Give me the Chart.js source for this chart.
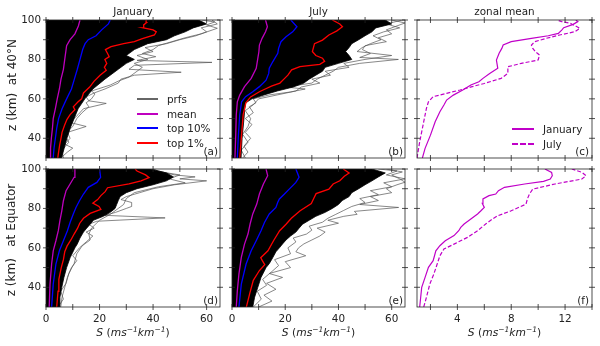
<!DOCTYPE html>
<html>
<head>
<meta charset="utf-8">
<script src="https://cdn.jsdelivr.net/npm/chart.js@4.4.1/dist/chart.umd.min.js"></script>
<style>
  html, body { margin: 0; padding: 0; background: #fff; }
  #fig { position: relative; width: 600px; height: 346px; overflow: hidden; background: #fff;
         font-family: "DejaVu Sans", sans-serif; font-size: 10.4px; color: #222; }
  #fig canvas { position: absolute; left: 0; top: 0; }
  .txt { position: absolute; white-space: pre; line-height: 1; }
  .ctr { transform: translate(-50%, -50%); }
  .rot { transform: translate(-50%, -50%) rotate(-90deg); font-size: 12px; }
  .xl { font-size: 10.7px; }
  .plab { transform: translate(-100%, -50%); }
  sup { font-size: 7.5px; line-height: 0; vertical-align: 4px; font-style: italic; }
  .legend { position: absolute; }
  .legend div { height: 14.6px; display: flex; align-items: center; white-space: pre; }
  .legend .sw { display: inline-block; width: 21px; height: 2px; margin-right: 9px; }
  .legend .dash { height: 0; background: none !important; border-top: 2px dashed #c000c8; }
</style>
</head>
<body>
<div id="fig">
  <canvas id="pa" width="600" height="346"></canvas>
  <canvas id="pb" width="600" height="346"></canvas>
  <canvas id="pc" width="600" height="346"></canvas>
  <canvas id="pd" width="600" height="346"></canvas>
  <canvas id="pe" width="600" height="346"></canvas>
  <canvas id="pf" width="600" height="346"></canvas>

  <div class="txt ctr" style="left:133px;top:11px">January</div>
  <div class="txt ctr" style="left:318.5px;top:11px">July</div>
  <div class="txt ctr" style="left:504.5px;top:11px">zonal mean</div>

  <div class="txt rot" style="left:12px;top:85px">z (km)  at 40°N</div>
  <div class="txt rot" style="left:11px;top:240px">z (km)   at Equator</div>

  <div class="txt ctr xl" style="left:133px;top:333px"><i>S</i> (<i>ms</i><sup>−1</sup><i>km</i><sup>−1</sup>)</div>
  <div class="txt ctr xl" style="left:318.5px;top:333px"><i>S</i> (<i>ms</i><sup>−1</sup><i>km</i><sup>−1</sup>)</div>
  <div class="txt ctr xl" style="left:504.5px;top:333px"><i>S</i> (<i>ms</i><sup>−1</sup><i>km</i><sup>−1</sup>)</div>

  <div class="txt plab" style="left:218px;top:151px">(a)</div>
  <div class="txt plab" style="left:403px;top:151px">(b)</div>
  <div class="txt plab" style="left:589px;top:151px">(c)</div>
  <div class="txt plab" style="left:218px;top:300px">(d)</div>
  <div class="txt plab" style="left:403px;top:300px">(e)</div>
  <div class="txt plab" style="left:589px;top:300px">(f)</div>

  <div class="legend" style="left:137px;top:92px">
    <div><span class="sw" style="background:#666"></span>prfs</div>
    <div><span class="sw" style="background:#bf00bf"></span>mean</div>
    <div><span class="sw" style="background:#0000ff"></span>top 10%</div>
    <div><span class="sw" style="background:#ff0000"></span>top 1%</div>
  </div>
  <div class="legend" style="left:512px;top:122px">
    <div><span class="sw" style="background:#c000c8;width:22px"></span>January</div>
    <div><span class="sw dash" style="width:22px"></span>July</div>
  </div>
</div>

<script>
// ---- data: [altitude km, S] pairs ----

// (a) January, 40N
const jan40Mean = [[30,1.5],[35,1.7],[40,2.0],[45,2.4],[50,2.7],[55,3.5],[60,4.2],[65,5.0],[70,5.6],[75,6.5],[80,7.0],[87,7.7],[90,9.0],[93,10.8],[97,12.1],[100,12.7]];
const jan40Top10 = [[30,2.7],[35,3.0],[40,3.5],[45,4.0],[50,4.7],[55,6.0],[60,7.7],[65,9.5],[70,10.6],[75,11.7],[80,12.7],[85,13.7],[88,14.6],[90,15.8],[92,18.7],[95,20.8],[98,23.3],[100,24.0]];
const jan40Top1 = [[30,4.4],[33,4.7],[36.5,5.1],[40,5.6],[43,6.0],[46.5,6.9],[49.5,7.8],[52,9.0],[54.5,10.8],[56,10.2],[58.5,12.0],[60,13.3],[63,14.0],[66,16.3],[69,18.0],[72,20.2],[74.5,22.5],[76,21.8],[78,22.7],[80,22.0],[81.4,23.6],[83,23.0],[85,22.2],[86.5,24.3],[88,29],[89,33],[90.5,36],[92.4,40.5],[94,41.2],[95,40],[96,36.4],[97.5,36.5],[98.6,37.5],[100,37.4]];
const jan40Core = [[30,5.8],[35,6.8],[40,7.8],[45,9],[50,10.5],[55,12],[60,14.5],[65,17.5],[70,22],[75,27],[78,30],[80,33],[82,30],[85,33],[88,38],[90,45],[92,48],[94,52],[96,55],[98,60],[100,57]];
const jan40Fringe1 = [[30,5.5],[33,8],[35,10],[37,7],[40,9],[43,8],[46,15],[48,9],[52,12],[55,14],[57.7,22.5],[59,16],[61,15],[63,18],[65,22],[68,27],[70,28],[72,33],[73.5,50.5],[75,31],[77,33],[78.5,62],[79.5,34],[81.4,41],[83,36],[85,40],[87,42],[89,47],[91,52],[93,58],[95.8,64],[97.5,60],[99,63],[100,58]];
const jan40Fringe2 = [[30,6.5],[34,6],[38,8.5],[42,7],[46,10],[50,11.5],[53,13.5],[56,16],[58,15],[60,17],[62.5,18.3],[64,17],[67,24],[69,27],[71,31],[74,34],[76,36],[78,33],[80,38],[82,34],[84,40],[86,37],[88,45],[90,50],[92,56],[94,60],[96,58],[98,64],[100,62]];

// (b) July, 40N
const jul40Mean = [[30,1.1],[41.6,1.4],[51.8,1.6],[58.5,2.0],[61.9,2.9],[66.2,4.7],[70.4,7.2],[75.5,9.1],[80.5,9.7],[83.9,10.1],[87.3,10.3],[90.7,11.3],[94,12.6],[96.6,13.3],[100,12.6]];
const jul40Top10 = [[30,2.0],[41.6,2.4],[51.8,2.9],[58.5,3.6],[61.1,5.1],[63.6,7.8],[66.2,10.3],[69.5,12.8],[72.9,13.8],[75.5,14.0],[78.8,15.3],[83.1,17.2],[85.6,17.5],[89,18.4],[91.5,20.3],[94,22.8],[96.6,24.4],[100,22.1]];
const jul40Top1 = [[30,2.9],[42,3.6],[52,4.2],[58,5.2],[61,7.0],[63.6,10.3],[65,12.5],[66.5,14.8],[68,18],[70,19.5],[72,21],[74.7,22.4],[76.4,25.5],[77.5,33],[79,34.8],[80.6,34],[82,31.5],[84,30.2],[86,30.6],[88,31],[89.8,34.0],[92.4,36.4],[94.5,39.4],[96.6,41.5],[98,40.5],[100,37.7]];
const jul40Core = [[30,3.4],[40,3.8],[50,4.5],[55,4.8],[58,5.2],[60,7.5],[62,12],[64,17],[66,23],[68,27],[70,29],[72,31.5],[74,34],[76,35],[78,40],[80,45],[82,44],[84,42.7],[86,44],[88,45],[90,47.6],[92,50],[94,52.6],[96,54],[98,60],[100,57.6]];
const jul40Fringe1 = [[30,4],[33,6],[36,4.5],[40,7],[43,5],[47,7.5],[50,5],[53,8],[56,6.5],[58,9],[60,8],[62,14],[63.5,22],[65,27.5],[66,20],[68,30],[70,32],[72,35],[74,38],[76,40],[78,48],[80,62.5],[81,48],[83,52],[85,49],[87,50],[89,58],[91,55],[93,60],[95,58],[97,62],[98.5,65],[100,60]];
const jul40Fringe2 = [[30,5],[34,3.5],[38,6],[42,4],[46,6],[50,7],[54,5],[57,8],[60,10],[62,17],[64,24],[66,26],[68,33],[70,30],[72,37],[74,35],[76,44],[78,42],[80,50],[82,60],[84,47],[86,48.9],[88,52],[90,56],[92,53],[94,57],[96,63],[98,58],[100,64]];

// (d) January, Equator
const janEqMean = [[30,1.2],[41.6,1.5],[51.8,2.1],[58.5,2.7],[63.6,3.7],[68.7,4.6],[73.8,5.2],[78.8,5.9],[83.9,6.5],[89,7.5],[92.4,9.0],[95.8,10.5],[100,10.8]];
const janEqTop10 = [[30,2.1],[41.6,2.7],[51.8,3.7],[58.5,5.0],[63.6,6.5],[68.7,8.0],[72.9,9.0],[77.2,10.2],[80.5,11.2],[83.9,12.5],[87.3,14.0],[90.7,15.8],[93.2,19.0],[95.8,20.4],[100,20.0]];
const janEqTop1 = [[30,4.0],[38,4.5],[44,4.8],[50,5.7],[54,6.5],[58,7.0],[61,7.9],[64,9.3],[67,10.5],[70,11.8],[72.5,12.6],[75,14.0],[77.5,16.5],[79.5,20.5],[81,19.8],[82.7,17.5],[84.5,19.3],[86.5,20.5],[88.5,22.1],[90.5,23.0],[92.4,31.0],[94,35.5],[95.6,38.5],[97,37.2],[99,34],[100,33.3]];
const janEqCore = [[30,4.9],[35,5.2],[40,5.9],[45,6.7],[50,7.7],[55,9],[60,10.8],[62,11.7],[65,12.7],[68,14],[70,15.2],[72,16.5],[74,17.7],[76,21.4],[78,24],[80,25.8],[82,26.4],[84,27],[86,27.7],[88,30],[90,34],[92,40],[94,45],[96,47.6],[98,45],[100,39]];
const janEqFringe1 = [[30,5.5],[35,6],[40,7],[45,8],[50,9.5],[53.5,11.5],[56,10],[60,12.5],[63,15],[66,17.5],[68,15],[70,18],[72,16],[73.5,19],[75.2,44.5],[76.5,22],[78,26],[80,30],[81,32],[83,32],[84.5,28],[86,30],[88,35],[90,40],[92,48],[94,60],[95,50],[96,55.7],[97,48],[99,42],[100,40]];
const janEqFringe2 = [[30,4.5],[34,6.5],[38,5.5],[42,7.5],[47,8.5],[52,10.5],[57,11.5],[61,13.5],[64,16.5],[67,16],[70,17],[74,20],[77,24],[80,27],[82,29],[85,30],[88,33],[91,42],[93,52],[95,46],[97,50],[100,36]];

// (e) July, Equator
const julEqMean = [[30,1.6],[38.2,2.0],[46.7,2.6],[55.2,3.5],[61.9,4.7],[67,6.0],[72.1,6.8],[77.2,7.8],[82.2,9.3],[87.3,10.3],[92.4,11.8],[96.6,13.4],[100,12.8]];
const julEqTop10 = [[30,2.6],[41.6,3.5],[51.8,5.3],[58.5,7.2],[63.6,9.1],[68.7,10.9],[72.9,12.2],[77.2,14.0],[80.5,16.5],[83.1,17.2],[84.8,17.8],[87.3,19.7],[89.8,21.5],[93.2,24.0],[95.8,25.2],[100,24.0]];
const julEqTop1 = [[30,5.4],[37,6.7],[43.5,8.0],[48.5,10.3],[51.5,12.3],[53.5,11.4],[55,10.8],[58.5,13.5],[63.6,15.6],[68.7,17.9],[72,20.3],[75,22.3],[78.8,25.6],[82.5,29.8],[85,30.7],[87.5,31.6],[89.8,36.4],[92.4,38.0],[94,40.5],[96.3,42.2],[98,44.0],[100,41.8]];
const julEqCore = [[30,7.8],[35,8.5],[40,9.7],[45,10.9],[50,12.8],[52,14],[55,15.3],[58,16.5],[60,17.8],[62,19],[64,20.3],[66,22],[68,24],[70,25.2],[72,26.5],[74,29],[76,31.5],[78,35],[80,37.7],[82,40],[84,41.4],[86,44],[88,45],[90,47.6],[92,50],[94,52.6],[96,55],[98,57.6],[100,52.6]];
const julEqFringe1 = [[30,10],[33,15],[36,12],[39,16.5],[42,13],[45,19],[47,14],[50,22],[53,20],[56,27.7],[58,24],[60,25],[62,27],[64,30],[66,33],[68,35],[70,32],[72.5,40],[74,36],[76,42],[77,47],[78.5,46],[80.5,62.6],[82,48],[84,55],[86,52],[88,60],[90,58],[92,62],[93.3,65],[95,63],[97,60],[98.5,64],[100,58]];
const julEqFringe2 = [[30,8],[34,11],[38,9.5],[41,13],[44,11.5],[48,15],[51,17.5],[54,16],[57,22],[60,21],[63,24],[65,23],[67,28],[69,30],[71,29],[73,34],[75,36],[77,39],[79,42],[81,45],[83,50],[85,48],[87,55],[89,52],[91,60],[93,57],[95,65],[97,58],[99,62],[100,55]];

// (c) zonal mean, 40N
const janZonal40 = [[30,1.4],[34.9,1.6],[41.6,2.0],[48.4,2.35],[53.5,2.7],[56.9,3.0],[59.4,3.2],[61.9,3.7],[64.5,4.4],[67,5.0],[68.7,5.6],[70.4,5.9],[72.9,6.4],[75.5,7.0],[79.7,6.9],[83.1,7.1],[85.6,7.3],[87.3,7.4],[89,8.0],[90.7,9.5],[92,10.75],[93.2,11.5],[94.9,11.75],[96.1,11.9],[97.8,12.6],[99.2,12.95],[100,12.8]];
const julZonal40 = [[30,1.0],[38.2,1.2],[48.4,1.5],[55.2,1.7],[58.5,1.85],[61.1,2.2],[62.8,3.2],[64.5,4.2],[66.2,5.1],[67.8,6.0],[70.4,7.25],[72.9,7.75],[76.3,7.75],[78,8.75],[79.7,10.0],[82.2,10.1],[83.9,9.8],[85.6,9.6],[87.3,9.5],[89,9.75],[90.7,10.6],[92.4,11.6],[94.1,12.75],[95.8,13.1],[98.3,12.4],[99.2,11.75],[100,11.4]];

// (f) zonal mean, Equator
const janZonalEq = [[30,1.2],[40,1.35],[45,1.6],[50.1,1.85],[53.5,2.2],[58.5,2.4],[61.1,2.7],[63.6,3.1],[66.2,3.75],[68.7,4.1],[70.4,4.25],[72.1,4.5],[74.6,5.0],[77.2,5.5],[78.8,5.75],[80.5,6.0],[82.6,5.85],[84.8,5.9],[86.5,6.35],[87.3,6.85],[89,7.05],[90.7,7.5],[92.4,9.0],[93.7,10.4],[94.9,10.9],[96.6,11.05],[98.3,11.0],[100,10.5]];
const julZonalEq = [[30,1.5],[34.9,1.7],[41.6,1.95],[46.7,2.25],[51.8,2.5],[56,2.7],[59.4,3.0],[61.9,3.75],[65.3,4.75],[68.7,5.5],[72.1,6.1],[74.6,6.6],[76.3,7.0],[78.8,8.0],[82.2,9.1],[84.8,9.2],[87.3,9.35],[89.8,9.6],[92.4,11.25],[94.9,13.25],[96.6,13.55],[98.3,13.25],[100,12.5]];

// axis ticks
const zTickLabels = [40, 60, 80, 100];
const zTickMarks = [40, 50, 60, 70, 80, 90, 100];
const sTickLabels = [0, 20, 40, 60];
const sTickMarks = [0, 10, 20, 30, 40, 50, 60];
const zonalTickLabels = [4, 8, 12];
const zonalTickMarks = [2, 4, 6, 8, 10, 12, 14];

// ---- layout ----
const W = 600, H = 346;
const cols = [{ l: 46, r: 220 }, { l: 232, r: 405 }, { l: 417, r: 592 }];
const rows = [{ t: 20, b: 158 }, { t: 169, b: 307 }];

const tickFont = { family: 'DejaVu Sans', size: 10.4 };

// frame + in/out tick marks on all four sides
const frameTicks = {
  id: 'frameTicks',
  afterDatasetsDraw(chart, args, opts) {
    const { ctx, chartArea: a } = chart;
    const x = chart.scales.x, y = chart.scales.y;
    ctx.save();
    ctx.strokeStyle = '#222';
    ctx.lineWidth = 0.8;
    ctx.beginPath();
    opts.xMarks.forEach(v => {
      const px = x.getPixelForValue(v);
      ctx.moveTo(px, a.bottom - 3); ctx.lineTo(px, a.bottom + 3);
      ctx.moveTo(px, a.top - 3); ctx.lineTo(px, a.top + 3);
    });
    opts.yMarks.forEach(v => {
      const py = y.getPixelForValue(v);
      ctx.moveTo(a.left - 3, py); ctx.lineTo(a.left + 3, py);
      ctx.moveTo(a.right - 3, py); ctx.lineTo(a.right + 3, py);
    });
    ctx.stroke();
    ctx.strokeRect(a.left, a.top, a.right - a.left, a.bottom - a.top);
    ctx.restore();
  }
};

const toPts = arr => arr.map(([z, s]) => ({ x: s, y: z }));

function profileSets(mean, top10, top1, core, fringes) {
  return [
    { data: toPts(top1), borderColor: '#ff0000', borderWidth: 1.3 },
    { data: toPts(top10), borderColor: '#0000ff', borderWidth: 1.3 },
    { data: toPts(mean), borderColor: '#bf00bf', borderWidth: 1.3 },
    { data: toPts(core), borderColor: '#000', borderWidth: 0.8, backgroundColor: '#000', fill: 'origin' },
    ...fringes.map(f => ({ data: toPts(f), borderColor: '#555', borderWidth: 0.7 }))
  ];
}

function zonalSets(jan, jul) {
  return [
    { data: toPts(jan), borderColor: '#c000c8', borderWidth: 1.2 },
    { data: toPts(jul), borderColor: '#c000c8', borderWidth: 1.2, borderDash: [4, 2] }
  ];
}

function makePanel(id, col, row, xMin, xMax, xLabels, xMarks, datasets) {
  const box = { l: cols[col].l, r: cols[col].r, t: rows[row].t, b: rows[row].b };
  const showX = row === 1, showY = col === 0;
  return new Chart(document.getElementById(id).getContext('2d'), {
    type: 'line',
    data: { datasets },
    options: {
      responsive: false,
      animation: false,
      indexAxis: 'y',
      layout: { padding: { left: 0, top: box.t, right: W - box.r, bottom: 0 } },
      elements: { point: { radius: 0 }, line: { tension: 0 } },
      plugins: {
        legend: { display: false },
        tooltip: { enabled: false },
        frameTicks: { xMarks: xMarks, yMarks: zTickMarks }
      },
      scales: {
        x: {
          type: 'linear', position: 'bottom', min: xMin, max: xMax,
          grid: { display: false, drawTicks: false },
          border: { display: false },
          ticks: { display: showX, padding: 6, color: '#222', font: tickFont, maxRotation: 0 },
          afterBuildTicks: s => { s.ticks = xLabels.map(v => ({ value: v })); },
          afterFit: s => { s.height = H - box.b; }
        },
        y: {
          type: 'linear', position: 'left', min: 30, max: 100,
          grid: { display: false, drawTicks: false },
          border: { display: false },
          ticks: { display: showY, padding: 5, color: '#222', font: tickFont },
          afterBuildTicks: s => { s.ticks = zTickLabels.map(v => ({ value: v })); },
          afterFit: s => { s.width = box.l; }
        }
      }
    },
    plugins: [frameTicks]
  });
}

makePanel('pa', 0, 0, 0, 65, sTickLabels, sTickMarks,
  profileSets(jan40Mean, jan40Top10, jan40Top1, jan40Core, [jan40Fringe1, jan40Fringe2]));
makePanel('pb', 1, 0, 0, 65, sTickLabels, sTickMarks,
  profileSets(jul40Mean, jul40Top10, jul40Top1, jul40Core, [jul40Fringe1, jul40Fringe2]));
makePanel('pc', 2, 0, 1, 14, zonalTickLabels, zonalTickMarks, zonalSets(janZonal40, julZonal40));
makePanel('pd', 0, 1, 0, 65, sTickLabels, sTickMarks,
  profileSets(janEqMean, janEqTop10, janEqTop1, janEqCore, [janEqFringe1, janEqFringe2]));
makePanel('pe', 1, 1, 0, 65, sTickLabels, sTickMarks,
  profileSets(julEqMean, julEqTop10, julEqTop1, julEqCore, [julEqFringe1, julEqFringe2]));
makePanel('pf', 2, 1, 1, 14, zonalTickLabels, zonalTickMarks, zonalSets(janZonalEq, julZonalEq));
</script>
</body>
</html>
